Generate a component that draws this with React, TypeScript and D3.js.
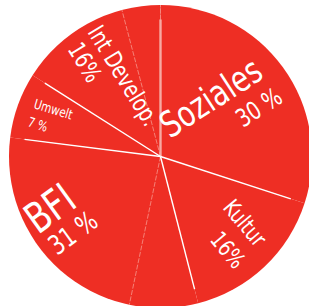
import React, { useEffect, useRef } from "react";
import * as d3 from "d3";

const width = 309,
  height = 306;

// Anteile in Prozent
const categories = ["Soziales", "Kultur", "BFI", "Umwelt", "Int Develop."];
const shares = [30, 16, 31, 7, 16];
// Unterteilungen innerhalb der Segmente (dünne Linien)
const subShares = [[30], [16], [7.3, 23.7], [7], [11.9, 4.1]];
const labels = ["30 %", "16%", "31 %", "7 %", "16%"];

const cx = 160.5,
  cy = 156.5,
  radius = 151.5;

// Textpositionen: [x, y, Winkel, Grösse] für Name und Prozent
const labelLayout = [
  { name: [170, 139, -33, 36], pct: [243, 128, -33, 25] },
  { name: [222, 208, 50, 23], pct: [209, 240, 50, 23] },
  { name: [38, 235, -36, 42], pct: [57, 256, -36, 27] },
  { name: [33, 108, 17, 13.5], pct: [27, 126, 17, 13.5] },
  { name: [87, 32, 58.5, 24], pct: [67, 49, 58.5, 24] }
];
const squeeze = 0.86;

function App() {
  const ref = useRef<SVGSVGElement>(null);

  useEffect(() => {
    const svg = d3.select(ref.current);
    svg.selectAll("*").remove();

    const pie = d3
      .pie<number>()
      .sort(null)
      .value(d => d);

    const arcs = pie(shares);
    const arc = d3.arc<d3.PieArcDatum<number>>().innerRadius(0).outerRadius(radius);

    const g = svg.append("g").attr("transform", `translate(${cx},${cy})`);

    g.selectAll("path")
      .data(arcs)
      .join("path")
      .attr("fill", "#ee2e24")
      .attr("d", arc);

    const pt = (a: number, r: number) => [Math.sin(a) * r, -Math.cos(a) * r];

    // dünne Unterteilungslinien
    const subAngles: number[] = [0];
    arcs.forEach((a, i) => {
      let acc = a.startAngle;
      const total = shares[i];
      subShares[i].slice(0, -1).forEach(s => {
        acc += ((a.endAngle - a.startAngle) * s) / total;
        subAngles.push(acc);
      });
    });
    g.selectAll("line.sub")
      .data(subAngles)
      .join("line")
      .attr("class", "sub")
      .attr("x1", 0)
      .attr("y1", 0)
      .attr("x2", d => pt(d, radius)[0])
      .attr("y2", d => pt(d, radius)[1])
      .attr("stroke", "#f58a80")
      .attr("stroke-width", 0.9)
      .attr("stroke-dasharray", "5,1.5");

    // Trennlinien zwischen den Segmenten
    g.selectAll("line.sep")
      .data(arcs)
      .join("line")
      .attr("class", "sep")
      .attr("x1", 0)
      .attr("y1", 0)
      .attr("x2", d => pt(d.startAngle, 137)[0])
      .attr("y2", d => pt(d.startAngle, 137)[1])
      .attr("stroke", (d, i) => (i === 0 ? "#f7a9a3" : "#ffffff"))
      .attr("stroke-width", (d, i) => (i === 0 ? 2.4 : 1.4));

    const font = "'DejaVu Sans Condensed', 'DejaVu Sans', sans-serif";
    const t = svg.append("g").attr("fill", "#ffffff").attr("font-family", font);

    t.selectAll("text.name")
      .data(categories)
      .join("text")
      .attr("class", "name")
      .attr("transform", (d, i) => {
        const [x, y, r] = labelLayout[i].name;
        return `translate(${x},${y}) rotate(${r}) scale(${squeeze},1)`;
      })
      .attr("font-size", (d, i) => labelLayout[i].name[3])
      .text(d => d);

    t.selectAll("text.pct")
      .data(labels)
      .join("text")
      .attr("class", "pct")
      .attr("transform", (d, i) => {
        const [x, y, r] = labelLayout[i].pct;
        return `translate(${x},${y}) rotate(${r}) scale(${squeeze},1)`;
      })
      .attr("font-size", (d, i) => labelLayout[i].pct[3])
      .text(d => d);
  }, []);

  return (
    <svg
      ref={ref}
      width={width}
      height={height}
      style={{ position: "absolute", left: 0, top: 0, background: "#ffffff" }}
    />
  );
}

export default App;
